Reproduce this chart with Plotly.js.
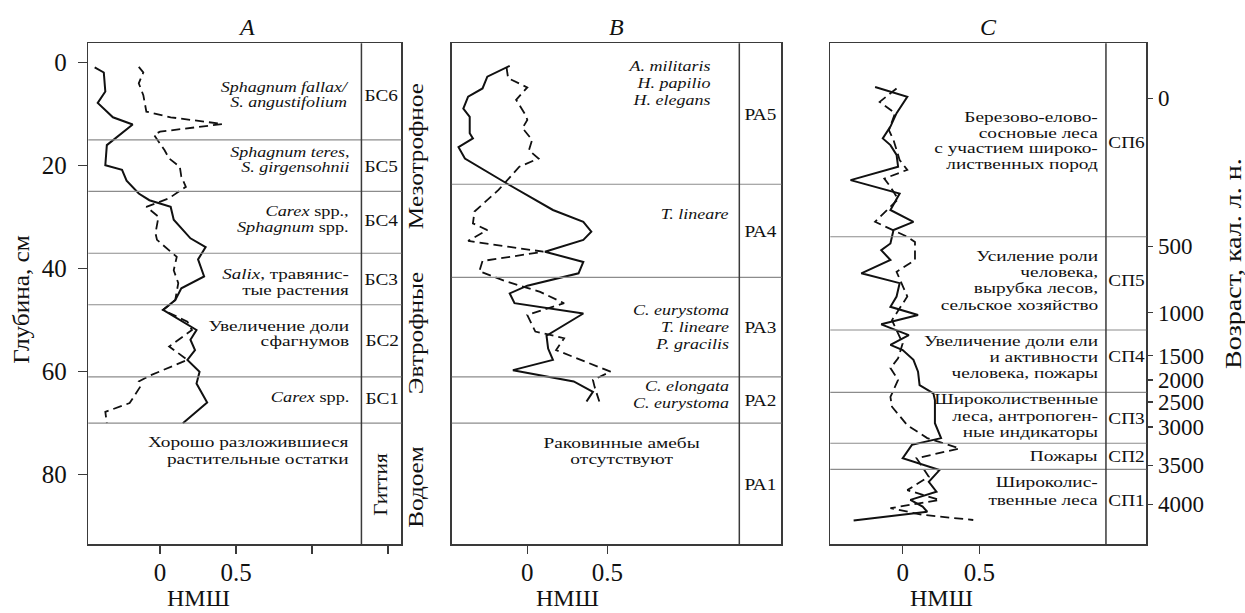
<!DOCTYPE html>
<html><head><meta charset="utf-8">
<script src="https://cdn.plot.ly/plotly-3.0.1.min.js"></script>
<style>html,body{margin:0;padding:0;background:#fff}#chart{width:1245px;height:613px}</style>
</head><body><div id="chart"></div>
<script>
// ---------- DATA ----------
// Panel A (depth, cm / НМШ)
const depthA_solid = [0.9,1.9,5.6,7.8,10.6,12.0,16.0,19.9,20.8,22.9,25.4,26.7,28.0,30.5,34.1,35.8,38.2,41.5,43.8,46.1,48.0,50.0,51.9,53.8,55.8,57.7,60.0,62.3,66.0,70.0];
const nmshA_solid  = [-0.43,-0.37,-0.36,-0.41,-0.31,-0.18,-0.35,-0.36,-0.25,-0.22,-0.14,-0.07,0.07,0.09,0.20,0.30,0.25,0.29,0.14,0.10,0.02,0.13,0.24,0.20,0.23,0.18,0.26,0.24,0.31,0.15];
const depthA_dash  = [0.8,1.9,4.0,6.3,9.5,10.6,11.9,13.4,14.0,17.0,18.6,20.2,22.1,24.1,26.3,28.0,29.9,33.1,34.4,37.7,40.3,42.8,46.1,48.0,50.3,51.9,55.1,57.7,60.8,61.9,62.9,66.1,67.8,70.0];
const nmshA_dash   = [-0.14,-0.11,-0.14,-0.11,-0.09,0.07,0.41,0.0,-0.04,0.03,0.06,0.13,0.14,0.17,0.06,-0.09,-0.01,-0.03,-0.02,0.11,0.09,0.12,0.10,0.02,0.18,0.21,0.06,0.18,-0.07,-0.14,-0.13,-0.20,-0.36,-0.35];
// Panel B
const depthB_solid = [0.6,2.7,5.0,6.6,8.9,10.5,13.7,14.7,16.4,18.6,23.6,28.6,30.9,32.8,34.4,36.7,38.7,40.9,43.3,44.8,46.7,48.7,53.0,55.5,57.7,59.7,61.9,63.9,65.8];
const nmshB_solid  = [-0.11,-0.25,-0.28,-0.37,-0.40,-0.36,-0.36,-0.34,-0.43,-0.39,-0.12,0.16,0.35,0.40,0.35,0.11,0.35,0.32,0.0,-0.11,-0.08,0.35,0.12,0.13,0.16,-0.09,0.29,0.41,0.37];
const depthB_dash  = [0.9,3.0,4.8,7.2,10.2,11.1,12.7,15.0,17.0,18.6,20.2,24.7,28.9,31.2,32.5,34.6,36.7,38.5,40.5,42.5,44.5,46.7,49.0,52.2,53.5,55.8,60.0,61.6,62.9,65.8];
const nmshB_dash   = [-0.13,-0.12,0.0,-0.07,-0.01,0.0,-0.03,0.03,0.01,0.07,-0.05,-0.18,-0.33,-0.34,-0.25,-0.37,0.10,-0.28,-0.30,-0.13,0.08,0.23,0.0,0.05,0.23,0.18,0.52,0.41,0.42,0.45];
// Panel C
const depthC_solid = [4.7,6.6,9.8,12.4,14.7,16.0,17.9,20.2,22.8,25.4,28.6,30.9,32.5,35.1,36.4,38.3,40.9,42.8,45.4,47.4,49.0,50.8,52.9,54.8,55.8,57.7,60.0,62.6,64.2,65.5,70.0,72.9,74.2,76.8,79.1,81.4,83.3,84.9,86.2,87.2,88.9];
const nmshC_solid  = [-0.18,0.03,-0.04,-0.08,-0.13,-0.08,-0.04,-0.03,-0.34,-0.02,-0.08,0.07,-0.06,-0.08,-0.14,-0.08,-0.27,-0.02,-0.04,-0.08,0.10,-0.14,0.04,-0.08,0.0,0.07,0.10,0.11,0.20,0.21,0.21,0.25,0.06,0.0,0.24,0.17,0.22,0.05,0.13,0.16,-0.32];
const depthC_dash  = [5.0,7.6,9.8,13.1,15.0,18.9,20.8,22.5,24.1,26.5,30.9,32.5,33.8,34.8,38.3,40.6,43.5,45.4,47.7,50.0,54.5,57.4,59.3,61.6,64.9,66.8,70.4,72.9,74.9,76.8,80.4,83.0,84.9,86.5,87.8,88.8];
const nmshC_dash   = [-0.04,-0.15,-0.05,-0.09,-0.06,-0.02,0.03,-0.12,-0.08,-0.03,-0.18,-0.07,0.03,0.08,0.08,-0.04,0.0,0.03,-0.02,-0.07,0.0,-0.03,-0.08,-0.03,-0.08,-0.07,0.03,0.16,0.37,0.09,0.17,0.03,0.24,-0.08,0.13,0.46];

// Zones
const boundsA = [15,25,37,47,61,70];
const zonesA  = ['БС6','БС5','БС4','БС3','БС2','БС1'];
const boundsB = [23.6,41.7,61,70];
const zonesB  = ['РА5','РА4','РА3','РА2','РА1'];
const boundsC = [33.8,51.9,64.0,73.9,78.95];
const zonesC  = ['СП6','СП5','СП4','СП3','СП2','СП1'];

const descA = [['<i>Sphagnum fallax/</i>','<i>S. angustifolium</i>'],['<i>Sphagnum teres</i>,','<i>S. girgensohnii</i>'],['<i>Carex</i> spp.,','<i>Sphagnum</i> spp.'],['<i>Salix</i>, травянис-','тые растения'],['Увеличение доли','сфагнумов'],['<i>Carex</i> spp.'],['Хорошо разложившиеся','растительные остатки']];
const descB = [['<i>A. militaris</i>','<i>H. papilio</i>','<i>H. elegans</i>'],['<i>T. lineare</i>'],['<i>C. eurystoma</i>','<i>T. lineare</i>','<i>P. gracilis</i>'],['<i>C. elongata</i>','<i>C. eurystoma</i>'],['Раковинные амебы','отсутствуют']];
const descC = [['Березово-елово-','сосновые леса','с участием широко-','лиственных пород'],['Усиление роли','человека,','вырубка лесов,','сельское хозяйство'],['Увеличение доли ели','и активности','человека, пожары'],['Широколиственные','леса, антропоген-','ные индикаторы'],['Пожары'],['Широколис-','твенные леса']];
const trophic = ['Мезотрофное','Эвтрофные','Водоем'];

const depthTicks = [0,20,40,60,80];
const nmshTicksA = [0,0.5,1,1.5];
const nmshTickTextA = ['0','0.5','',''];
const nmshTicks = [0,0.5];
const ageLabels = ['0','500','1000','1500','2000','2500','3000','3500','4000'];
const ageDepths = [6.9,35.65,48.5,56.9,61.65,65.85,70.7,78.2,85.75];

// ---------- LAYOUT ----------
const W=1245,H=613;
const FONT='"Liberation Serif","Times New Roman",serif';
const INK='#111';
const FRAME='#3a3a3a';
const frameTop=43.3,frameBot=544;
const panels={A:[88.3,401.4],B:[451.8,781.4],C:[830.3,1146.3]};
const xRange=[-0.472,1.588], yRange=[93.46,-3.77], divX=1.325;
const px=x=>x/W, py=y=>1-y/H;
const yDom=[py(frameBot),py(frameTop)];

function tr(x,y,xa,ya,dash){
  return {x:x,y:y,xaxis:xa,yaxis:ya,mode:'lines',type:'scatter',hoverinfo:'skip',
    line:{color:INK,width:dash?1.8:2,dash:dash?'9px,5px':'solid'},showlegend:false};
}
const data=[
  tr(nmshA_solid,depthA_solid,'x','y',false), tr(nmshA_dash,depthA_dash,'x','y',true),
  tr(nmshB_solid,depthB_solid,'x2','y2',false), tr(nmshB_dash,depthB_dash,'x2','y2',true),
  tr(nmshC_solid,depthC_solid,'x3','y3',false), tr(nmshC_dash,depthC_dash,'x3','y4',true)
];

const TICKF={family:FONT,size:25,color:INK};
function xax(p,anchor,tv,tt){
  return {domain:[px(panels[p][0]),px(panels[p][1])],range:xRange,anchor:anchor,showgrid:false,zeroline:false,
    showline:true,mirror:true,linecolor:FRAME,linewidth:1.6,ticks:'outside',ticklen:8,tickwidth:1.5,tickcolor:FRAME,
    tickvals:tv,ticktext:tt,tickfont:TICKF,ticklabelstandoff:-3,fixedrange:true};
}
function yax(anchor,showT){
  return {domain:yDom,range:yRange,anchor:anchor,showgrid:false,zeroline:false,showline:true,mirror:true,
    linecolor:FRAME,linewidth:1.6,ticks:showT?'outside':'',ticklen:9,tickwidth:1.5,tickcolor:FRAME,
    tickvals:showT?depthTicks:[],showticklabels:showT,tickfont:TICKF,ticklabelstandoff:6,fixedrange:true};
}
const layout={
  width:W,height:H,margin:{l:0,r:0,t:0,b:0},paper_bgcolor:'#fff',plot_bgcolor:'#fff',showlegend:false,
  font:{family:FONT,color:INK},
  xaxis:xax('A','y',nmshTicksA,nmshTickTextA),
  xaxis2:xax('B','y2',nmshTicks,['0','0.5']),
  xaxis3:xax('C','y3',nmshTicks,['0','0.5']),
  yaxis:yax('x',true), yaxis2:yax('x2',false), yaxis3:yax('x3',false),
  yaxis4:{overlaying:'y3',side:'right',anchor:'x3',range:yRange,showgrid:false,zeroline:false,showline:false,
    ticks:'outside',ticklen:6,tickwidth:1.5,tickcolor:FRAME,tickvals:ageDepths,ticktext:ageLabels,
    tickfont:{family:FONT,size:23,color:INK},ticklabelstandoff:0,fixedrange:true},
  shapes:[],annotations:[]
};
// zone boundary lines and dividers
[['x','y',boundsA],['x2','y2',boundsB],['x3','y3',boundsC]].forEach(([xa,ya,b])=>{
  b.forEach(d=>layout.shapes.push({type:'line',xref:xa+' domain',yref:ya,x0:0,x1:1,y0:d,y1:d,line:{color:'#8c8c8c',width:1.2}}));
  layout.shapes.push({type:'line',xref:xa,yref:ya+' domain',x0:divX,x1:divX,y0:0,y1:1,line:{color:FRAME,width:1.5}});
});

const lineGap={}; // annotation index -> px between lines
const widen={};   // annotation index -> [horizontal glyph scale, anchor]
function ann(x,y,text,o,sx,anc){
  o=o||{};
  if(sx) widen[layout.annotations.length]=[sx,anc||'center'];
  layout.annotations.push(Object.assign({xref:'paper',yref:'paper',x:px(x),y:py(y),text:text,showarrow:false,
    xanchor:'center',yanchor:'middle',borderpad:0,font:{family:FONT,size:18,color:INK}},o));
}
// multi-line block: first line centred at y0, lines gap px apart
const DS=15; // description font size
function block(x,y0,gap,lines,anchor,sx){
  const n=lines.length;
  const yc=y0+(n-1)*1.3*DS/2;
  if(n>1) lineGap[layout.annotations.length]=gap;
  ann(x,yc,lines.join('<br>'),{xanchor:anchor,align:anchor==='center'?'center':'right',font:{family:FONT,size:DS,color:INK}},sx,anchor);
}
// panel titles
ann(246.7,27,'<i>A</i>',{font:{family:FONT,size:24,color:INK}});
ann(616.6,27,'<i>B</i>',{font:{family:FONT,size:24,color:INK}});
ann(988.3,27,'<i>C</i>',{font:{family:FONT,size:24,color:INK}});
// axis titles
ann(21,300,'Глубина, см',{textangle:-90,font:{family:FONT,size:23,color:INK}},1.1);
ann(1233,264,'Возраст, кал. л. н.',{textangle:-90,font:{family:FONT,size:23,color:INK}},1.22);
['x','x2','x3'].forEach(xa=>layout.annotations.push({xref:xa,yref:'paper',x:0.25,y:py(598),text:'НМШ',showarrow:false,
  xanchor:'center',yanchor:'middle',borderpad:0,font:{family:FONT,size:24,color:INK}}));
// trophic labels
const trophY=[156,333,487];
trophic.forEach((t,i)=>ann(416,trophY[i],t,{textangle:-90,font:{family:FONT,size:21,color:INK}},1.2));

// zone labels
const zlA=[95,166,220,279,340,398], zlB=[114,231,327,400,484], zlC=[142,279.5,356,417.5,455.5,500];
zonesA.forEach((z,i)=>ann(381.5,zlA[i],z,{font:{family:FONT,size:17.5,color:INK}},1.1));
ann(380.5,485,'Гиттия',{textangle:-90,font:{family:FONT,size:19,color:INK}},1.12);
zonesB.forEach((z,i)=>ann(760.5,zlB[i],z,{font:{family:FONT,size:17.5,color:INK}},1.1));
zonesC.forEach((z,i)=>ann(1126,zlC[i],z,{font:{family:FONT,size:17.5,color:INK}},1.1));

// descriptions: [first line y, line gap, horizontal widening]
const posA=[[87.5,14.8,1.2],[152.7,14.8,1.2],[211.7,16.3,1.22],[274,16,1.27],[326.7,15.2,1.29],[396.7,0,1.22],[442.7,16.6,1.29]];
descA.forEach((g,i)=>block(350,posA[i][0],posA[i][1],g,'right',posA[i][2]));
const posB=[[66,17,1.2],[214,0,1.2],[310,17,1.2],[386,17,1.2],[443,16.5,1.29]];
const xB=[712,730,730,730,621];
descB.forEach((g,i)=>block(xB[i],posB[i][0],posB[i][1],g,i===4?'center':'right',posB[i][2]));
const posC=[[117,15.7],[256.5,16.2],[340.5,16],[398.5,16.7],[455.5,0],[482,18]];
descC.forEach((g,i)=>block(1099,posC[i][0],posC[i][1],g,'right',1.29));

Plotly.newPlot('chart',data,layout,{displayModeBar:false,staticPlot:true}).then(()=>{
  document.querySelectorAll('#chart g.annotation').forEach(g=>{
    const idx=+g.getAttribute('data-index');
    const t=g.querySelector('text.annotation-text');
    if(!t) return;
    const gap=lineGap[idx];
    if(gap) t.querySelectorAll('tspan.line').forEach((s,i)=>s.setAttribute('dy',(i*gap)+'px'));
    const w=widen[idx];
    if(w){
      const bb=t.getBBox();
      const ax=w[1]==='right'?bb.x+bb.width:(w[1]==='left'?bb.x:bb.x+bb.width/2);
      const prev=t.getAttribute('transform')||'';
      t.setAttribute('transform',prev+' translate('+ax+',0) scale('+w[0]+',1) translate('+(-ax)+',0)');
    }
  });
});
</script></body></html>
